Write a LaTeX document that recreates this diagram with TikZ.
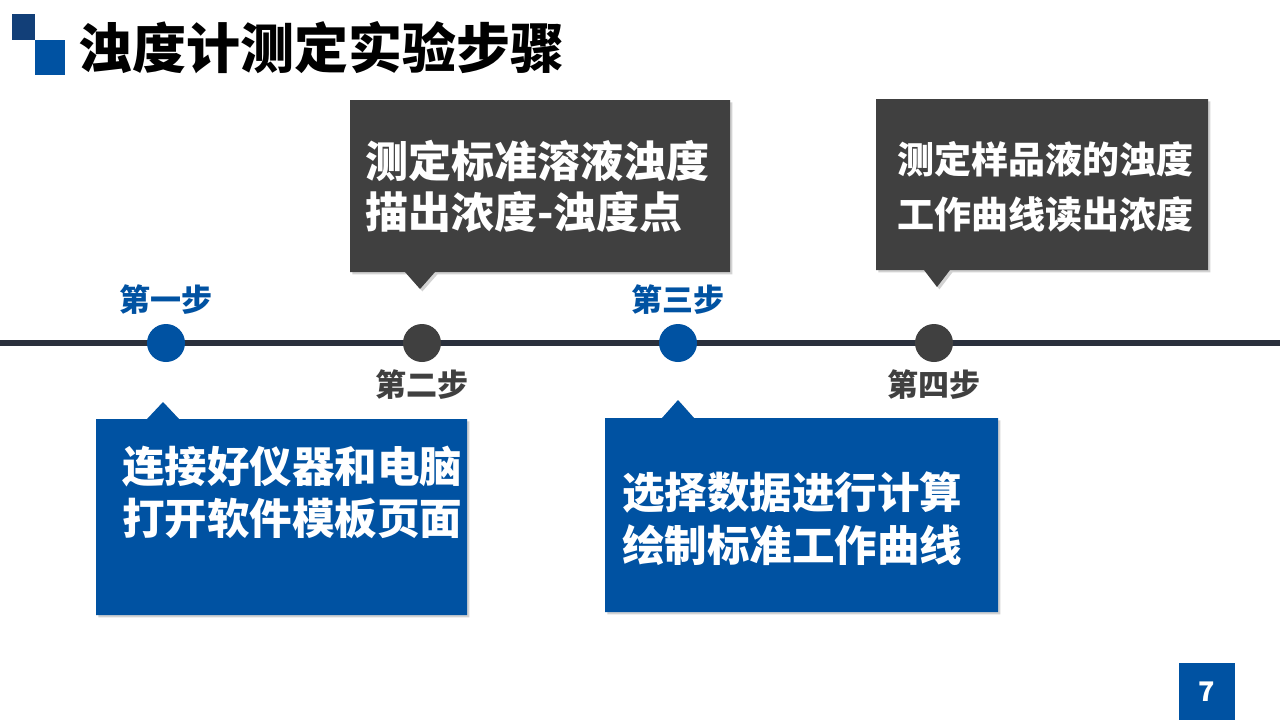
\documentclass[tikz,border=0pt]{standalone}
\usepackage{fontspec}
\setmainfont{Noto Sans CJK SC}
\usetikzlibrary{shadows}
\definecolor{myblue}{HTML}{0052A2}
\definecolor{navy}{HTML}{123F78}
\definecolor{darkbox}{HTML}{404040}
\definecolor{lineclr}{HTML}{2A303C}
\tikzset{
  fs/.style={font=\bfseries\fontsize{#1}{#1*1.2}\selectfont},
  bluebox/.style={fill=myblue, drop shadow={shadow xshift=1.2pt, shadow yshift=-1.2pt, opacity=0.35}},
  graybox/.style={fill=darkbox, drop shadow={shadow xshift=1.2pt, shadow yshift=-1.2pt, opacity=0.35}},
  dot/.style={circle, inner sep=0pt, minimum size=19pt},
  steplabel/.style={inner sep=0pt, font=\bfseries\fontsize{15.5pt}{18pt}\selectfont},
  boxtext/.style={inner sep=0pt, anchor=west, align=left, text=white},
}
\begin{document}
\begin{tikzpicture}[x=0.5pt,y=-0.5pt]
\useasboundingbox[fill=white] (0,0) rectangle (1280,720);
% title logo
\fill[navy] (12,14) rectangle (35,40);
\fill[myblue] (35,40) rectangle (65,75);
\node[inner sep=0pt, anchor=west, font=\bfseries\fontsize{27pt}{32pt}\selectfont] (title) at (78,48) {浊度计测定实验步骤};
% timeline
\draw[lineclr, line width=3pt] (0,343) -- (1280,343);
\node[dot, fill=myblue] (s1) at (166,343) {};
\node[dot, fill=darkbox] (s2) at (422,343) {};
\node[dot, fill=myblue] (s3) at (678,343) {};
\node[dot, fill=darkbox] (s4) at (934,343) {};
\node[steplabel, text=myblue] (l1) at (166,300) {第一步};
\node[steplabel, text=darkbox] (l2) at (422,385) {第二步};
\node[steplabel, text=myblue] (l3) at (678,300) {第三步};
\node[steplabel, text=darkbox] (l4) at (934,385) {第四步};
% callout 2
\fill[graybox] (350,100) -- (730,100) -- (730,272) -- (435,272) -- (420,289) -- (405,272) -- (350,272) -- cycle;
\node[boxtext, fs=21.5pt, font=\bfseries\fontsize{21.5pt}{25.5pt}\selectfont] (t2) at (365,187) {测定标准溶液浊度\\描出浓度-浊度点};
% callout 4
\fill[graybox] (876,99) -- (1208,99) -- (1208,270) -- (950,270) -- (937,287) -- (924,270) -- (876,270) -- cycle;
\node[boxtext, font=\bfseries\fontsize{18.5pt}{27.5pt}\selectfont] (t4) at (897,187) {测定样品液的浊度\\工作曲线读出浓度};
% callout 1
\fill[bluebox] (96,419) -- (147,419) -- (163,402) -- (179,419) -- (467,419) -- (467,615) -- (96,615) -- cycle;
\node[boxtext, font=\bfseries\fontsize{21.25pt}{26pt}\selectfont] (t1) at (122,492) {连接好仪器和电脑\\打开软件模板页面};
% callout 3
\fill[bluebox] (605,418) -- (662,418) -- (678,400) -- (694,418) -- (998,418) -- (998,612) -- (605,612) -- cycle;
\node[boxtext, font=\bfseries\fontsize{21.25pt}{26.5pt}\selectfont] (t3) at (622,519) {选择数据进行计算\\绘制标准工作曲线};
% page number
\node[fill=myblue, inner sep=0pt, minimum width=28pt, minimum height=28.5pt, text=white, font=\bfseries\fontsize{13.5pt}{16pt}\selectfont] (pg) at (1207,691.5) {7};
\end{tikzpicture}
\end{document}
